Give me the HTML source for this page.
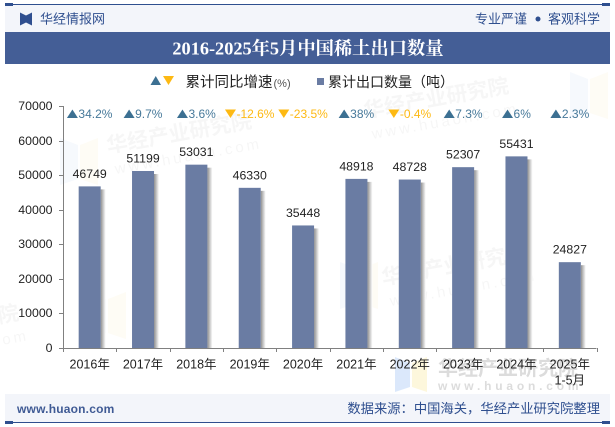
<!DOCTYPE html>
<html lang="zh">
<head>
<meta charset="utf-8">
<title>2016-2025年5月中国稀土出口数量</title>
<style>
html,body{margin:0;padding:0;background:#fff;}
svg{display:block;}
text{font-family:"Liberation Sans","Noto Sans CJK SC",sans-serif;}
</style>
</head>
<body>
<svg id="chart" xmlns="http://www.w3.org/2000/svg" width="615" height="427" viewBox="0 0 615 427">
<defs>
<linearGradient id="shadow-gradient" x1="0" x2="1" y1="0" y2="0">
<stop offset="0" stop-color="#8f8f8f"/>
<stop offset="1" stop-color="#ffffff"/>
</linearGradient>
</defs>
<rect width="615" height="427" fill="#fff"/>
<g id="watermarks"></g>
<rect x="5" y="5" width="605" height="27" fill="#f3f5fa"/>
<rect x="5" y="4" width="605" height="1" fill="#2f4f8f"/>
<rect x="5" y="3" width="8" height="3" fill="#2f4f8f"/>
<rect x="602" y="3" width="8" height="3" fill="#2f4f8f"/>
<path d="M20 12.500l6 3v7l-6 3zM32 12.500l-6 3v7l6 3z" fill="#2f4f8f"/>
<text x="40" y="23.500" font-size="13" fill="#2f4f8f">华经情报网</text>
<text x="475" y="23.500" font-size="13" fill="#2f4f8f">专业严谨</text>
<circle cx="538" cy="19" r="2.500" fill="#2f4f8f"/>
<text x="548" y="23.500" font-size="13" fill="#2f4f8f">客观科学</text>
<rect x="5" y="32" width="605" height="32" fill="#445e96"/>
<text x="308" y="54.500" font-size="18.300" font-weight="bold" text-anchor="middle" fill="#fff" style="font-family:'Liberation Serif','Noto Serif CJK SC',serif">2016-2025年5月中国稀土出口数量</text>

<path d="M150.500 85l5.250-9 5.250 9z" fill="#3c7092"/>
<path d="M163 76h11l-5.500 9z" fill="#fdb913"/>
<text x="185.500" y="87" font-size="14.500" fill="#222">累计同比增速<tspan font-size="11" dx="1" fill="#555">(%)</tspan></text>
<rect x="317" y="78" width="7" height="7" fill="#6a7ca3"/>
<text x="328" y="87" font-size="14" fill="#222">累计出口数量（吨）</text>

<g id="y-axis"></g>
<g id="x-axis"></g>
<g id="bars"></g>
<g id="growth-labels"></g>

<rect x="5" y="394" width="605" height="28" fill="#f3f5fa"/>
<rect x="5" y="422" width="605" height="1" fill="#2f4f8f"/>
<rect x="5" y="421" width="8" height="3" fill="#2f4f8f"/>
<rect x="602" y="421" width="8" height="3" fill="#2f4f8f"/>
<text x="17" y="413" font-size="12" font-weight="bold" fill="#3f5a94" letter-spacing="0.2">www.huaon.com</text>
<text x="600" y="413" font-size="13.300" text-anchor="end" fill="#2f4f8f">数据来源：中国海关，华经产业研究院整理</text>
</svg>
<script>
const categories = ['2016年','2017年','2018年','2019年','2020年','2021年','2022年','2023年','2024年','2025年'];
const exportValues = [46749,51199,53031,46330,35448,48918,48728,52307,55431,24827];
const growthValues = [34.2,9.7,3.6,-12.6,-23.5,38,-0.4,7.3,6,2.3];
const yTicks = [0,10000,20000,30000,40000,50000,60000,70000];
const lastCategoryNote = '1-5月';
const watermarkSpots = [[108,153],[383,285],[365,118],[-125,345]];
const watermarkLogoSpots = [[60,138],[340,262],[570,72],[88,292]];

const NS = 'http://www.w3.org/2000/svg';
const plot = {left:63, right:596.500, top:106, bottom:348, yMax:70000};
const band = (plot.right - plot.left) / categories.length;
const xCenter = i => plot.left + band * (i + 0.5);
const yScale = v => plot.bottom - (v / plot.yMax) * (plot.bottom - plot.top);

function make(tag, attrs, parent, content) {
  const el = document.createElementNS(NS, tag);
  for (const k in attrs) el.setAttribute(k, attrs[k]);
  if (content !== undefined) el.textContent = content;
  parent.appendChild(el);
  return el;
}

const wmGroup = document.getElementById('watermarks');
watermarkLogoSpots.forEach(([lx, ly]) => {
  const a = make('path', {d:`M${lx} ${ly}l18 7v34l-18 6z`, fill:'#eaf1fb', opacity:'0.45'}, wmGroup);
  
  
  const b = make('path', {d:`M${lx+38} ${ly}l-18 7v34l18 6z`, fill:'#fdf9e8', opacity:'0.45'}, wmGroup);
  
  
});
watermarkSpots.forEach(([wx, wy]) => {
  const g = make('g', {transform:`translate(${wx},${wy}) rotate(-10)`, opacity:'0.04'}, wmGroup);
  
  
  make('text', {x:0, y:0, 'font-size':'21', 'font-weight':'bold', fill:'#333'}, g, '华经产业研究院');
  make('text', {x:4, y:22, 'font-size':'15', 'letter-spacing':'3', fill:'#333'}, g, 'www.huaon.com');
});
const wmFooter = make('text', {x:438, y:375, 'font-size':'20', 'font-weight':'bold', fill:'#dcdcdc'}, wmGroup, '华经产业研究院');


const wmFooterUrl = make('text', {x:438, y:390, 'font-size':'12', 'font-weight':'bold', 'letter-spacing':'3.800', fill:'#dcdcdc'}, wmGroup, 'www.huaon.com');


const wmLogoA = make('path', {d:'M395 357l15 6v24l-15 5z', fill:'#dbe8fb'}, wmGroup);


const wmLogoB = make('path', {d:'M427 357l-15 6v24l15 5z', fill:'#fdf7dc'}, wmGroup);



const yAxis = document.getElementById('y-axis');
const yLine = make('line', {x1:plot.left+0.500, x2:plot.left+0.500, y1:plot.top, y2:plot.bottom, stroke:'#808080'}, yAxis);


yTicks.forEach(v => {
  const y = Math.round(yScale(v)) + 0.500;
  const tick = make('line', {x1:plot.left-4, x2:plot.left, y1:y, y2:y, stroke:'#808080'}, yAxis);
  
  
  const label = make('text', {x:52.500, y:y+3.500, 'font-size':'12.300', 'text-anchor':'end', fill:'#222'}, yAxis, String(v));
  
  
});

const xAxis = document.getElementById('x-axis');
const xLine = make('line', {x1:plot.left, x2:plot.right, y1:plot.bottom+0.500, y2:plot.bottom+0.500, stroke:'#808080'}, xAxis);


for (let i = 0; i <= categories.length; i++) {
  const x = Math.round(plot.left + band * i) + 0.500;
  const tick = make('line', {x1:x, x2:x, y1:plot.bottom, y2:plot.bottom+4, stroke:'#808080'}, xAxis);
  
  
}
categories.forEach((c, i) => {
  const label = make('text', {x:xCenter(i), y:368.500, 'font-size':'12.500', 'text-anchor':'middle', fill:'#222'}, xAxis, c);
  
  
});
const note = make('text', {x:xCenter(categories.length-1), y:384.500, 'font-size':'12.500', 'text-anchor':'middle', fill:'#222'}, xAxis, lastCategoryNote);



const bars = document.getElementById('bars');
const barWidth = 22;
exportValues.forEach((v, i) => {
  const x = xCenter(i) - barWidth / 2;
  const y = yScale(v);
  const shadow = make('rect', {x:x+barWidth, y:y+3, width:5, height:plot.bottom-y-3, fill:'url(#shadow-gradient)'}, bars);
  
  
  const bar = make('rect', {x:x, y:y, width:barWidth, height:plot.bottom-y, fill:'#6a7ca3'}, bars);
  
  
  const label = make('text', {x:xCenter(i), y:y-8.500, 'font-size':'12.300', 'text-anchor':'middle', fill:'#222'}, bars, String(v));
  
  
});

const growth = document.getElementById('growth-labels');
growthValues.forEach((v, i) => {
  const up = v >= 0;
  const label = make('text', {x:0, y:118, 'font-size':'12', fill: up ? '#47799a' : '#fdb913'}, growth, v + '%');
  
  
  const textW = label.getComputedTextLength();
  const start = xCenter(i) - (11.500 + textW) / 2;
  label.setAttribute('x', start + 11.500);
  const tri = make('path', {d: up ? `M${start} 118l5.500-8.500 5.500 8.500z` : `M${start} 109.500h11l-5.500 8.500z`, fill: up ? '#3c7092' : '#fdb913'}, growth);
  
  
});
</script>
</body>
</html>
